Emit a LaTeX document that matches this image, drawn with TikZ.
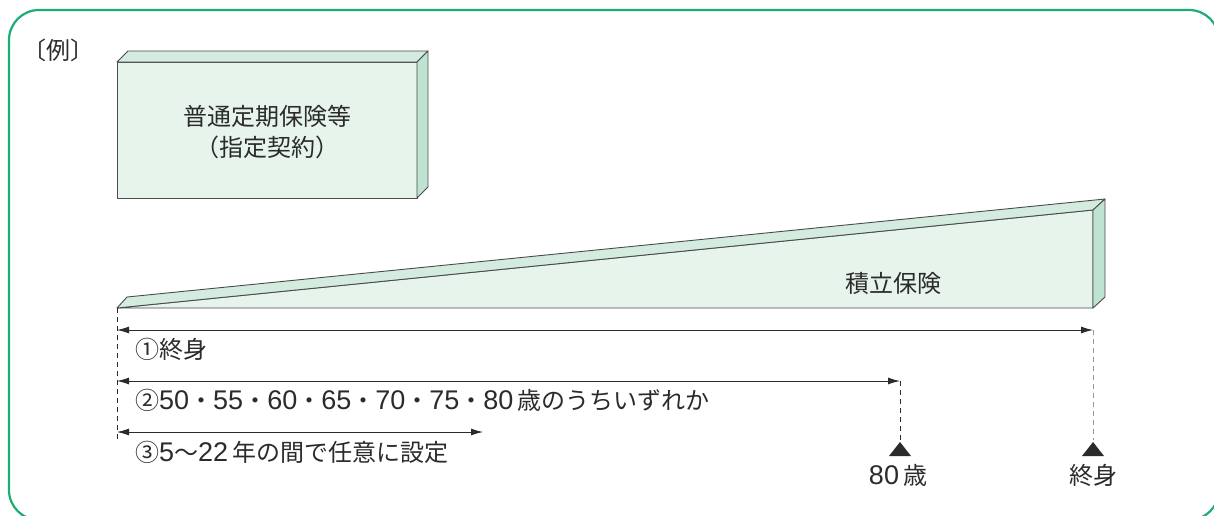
\documentclass[tikz,border=0pt]{standalone}
\usepackage{fontspec}
\setmainfont{Noto Sans CJK JP}
\newfontfamily\digitfont{Liberation Sans}
\usepackage{tikz}
\usetikzlibrary{arrows.meta}
\usetikzlibrary{positioning}

\definecolor{framegreen}{HTML}{1BAE72}
\definecolor{facegreen}{HTML}{E6F4EC}
\definecolor{topgreen}{HTML}{D3ECDF}
\definecolor{sidegreen}{HTML}{BEE3D0}
\definecolor{ink}{HTML}{2B2B2B}

% digits are set a little larger, in a Helvetica-like face
\newcommand{\dg}[1]{{\digitfont\fontsize{27pt}{31pt}\selectfont #1}}

\tikzset{
	face/.style={draw=ink!85, line width=0.9pt, line join=round},
	span/.style={{Latex[length=12pt,width=7pt]}-{Latex[length=12pt,width=7pt]}, draw=ink, line width=0.9pt},
	guide/.style={dashed, dash pattern=on 5pt off 4pt, line width=0.9pt},
	lbl/.style={font=\fontsize{24pt}{31pt}\selectfont, text=ink, inner sep=0pt},
	endtri/.style={fill=ink},
}

\begin{document}
\begin{tikzpicture}[x=1pt,y=-1pt]
	
	\useasboundingbox (0,0) rectangle (1214,515);
	
	% frame, cut off at the right and bottom
	\begin{scope}
		\clip (0,0) rectangle (1214,515);
		\draw[framegreen, line width=2.2pt, rounded corners=30pt] (9,10) rectangle (1219,520);
	\end{scope}
	
	\node[lbl] (rei) at (58,50) {〔例〕};
	
	% box of the designated contract
	\begin{scope}
		\filldraw[face, fill=facegreen] (117,62) rectangle (417,198);
		\filldraw[face, fill=topgreen] (117,62)--(128,51)--(428,51)--(417,62)--cycle;
		\filldraw[face, fill=sidegreen] (417,62)--(428,51)--(428,187)--(417,198)--cycle;
		\node[lbl, align=center] (teiki) at (267,132) {普通定期保険等\\（指定契約）};
	\end{scope}
	
	% wedge of the savings part
	\begin{scope}
		\filldraw[face, fill=facegreen] (117,308)--(1093,210)--(1093,308)--cycle;
		\filldraw[face, fill=topgreen] (117,308)--(127,297)--(1105,199)--(1093,210)--cycle;
		\filldraw[face, fill=sidegreen] (1093,210)--(1105,199)--(1105,297)--(1093,308)--cycle;
		\node[lbl] (tsumi) at (893,283) {積立保険};
	\end{scope}
	
	% ends of the spans
	\coordinate (t0) at (117,308);
	\coordinate (tl) at (117,442);
	\coordinate (a1s) at (117,330);
	\coordinate (a1e) at (1093,330);
	\coordinate (a2s) at (117,381);
	\coordinate (a2e) at (900,381);
	\coordinate (a3s) at (117,432);
	\coordinate (a3e) at (483,432);
	\coordinate (m80) at (900,442);
	\coordinate (mend) at (1093,442);
	
	\draw[guide, ink] (t0) -- (tl);
	\draw[guide, ink] (a2e) -- ([yshift=2pt]m80);
	\draw[guide, gray!80] (a1e) -- ([yshift=2pt]mend);
	
	\draw[span] (a1s) -- (a1e);
	\draw[span] (a2s) -- (a2e);
	\draw[span] (a3s) -- (a3e);
	
	\node[lbl, anchor=west] (opt1) at (135,349) {①終身};
	\node[lbl, anchor=west] (opt2) at (135,400)
		{②\dg{50}・\dg{55}・\dg{60}・\dg{65}・\dg{70}・\dg{75}・\dg{80}\hspace{4pt}歳のうちいずれか};
	\node[lbl, anchor=west] (opt3) at (135,452) {③\dg{5}～\dg{22}\hspace{4pt}年の間で任意に設定};
	
	% end marks
	\fill[endtri] (m80) -- ++(11,14) -- ++(-22,0) -- cycle;
	\fill[endtri] (mend) -- ++(11,14) -- ++(-22,0) -- cycle;
	\node[lbl] (age80) at (898,475) {\dg{80}\hspace{4pt}歳};
	\node[lbl] (life) at (1093,475) {終身};
	
\end{tikzpicture}
\end{document}
